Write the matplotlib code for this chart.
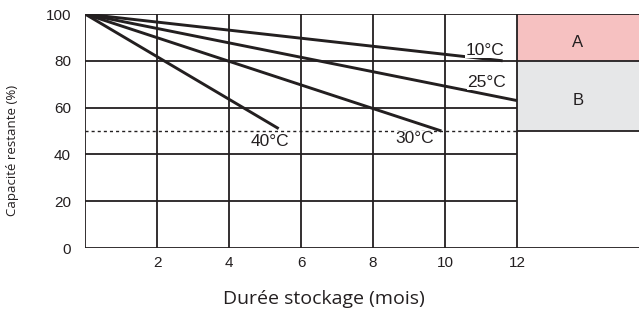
import matplotlib
matplotlib.use("Agg")
import matplotlib.pyplot as plt
import numpy as np

# ---- data ----
temps = ["10", "25", "30", "40"]
start_month = [0, 0, 0, 0]
start_capacity = [100, 100, 100, 100]
end_month = [11.6, 12.0, 9.9, 5.38]
end_capacity = [80, 63, 50, 51]

x_ticks = [2, 4, 6, 8, 10, 12]
y_ticks = [0, 20, 40, 60, 80, 100]
limit_capacity = 50

zone_labels = ["A", "B"]
zone_low = [80, 50]
zone_high = [100, 80]
zone_colors = ["#f6c1c1", "#e6e7e8"]

# ---- figure ----
ink = "#231f20"
fig = plt.figure(figsize=(6.39, 3.15), dpi=100)
ax = fig.add_axes([85/639, 67/315, 1 - 85/639, (248-14)/315])
xmax = (639 - 85) / 36.0
ax.set_xlim(0, xmax)
ax.set_ylim(0, 100)
for s in ax.spines.values():
    s.set_visible(False)

xend = x_ticks[-1]
# zones
for lab, lo, hi, c in zip(zone_labels, zone_low, zone_high, zone_colors):
    ax.fill_between([xend, xmax], lo, hi, color=c, lw=0, zorder=0)
    ax.text((xend + xmax) / 2, (lo + hi) / 2 - 2, lab, ha="center", va="center",
            fontsize=12, family="Liberation Sans", color=ink)

gl = 1.3
# vertical grid lines
ax.vlines([0] + x_ticks, 0, 100, color=ink, lw=gl, zorder=1)
# horizontal grid lines
ax.hlines([y for y in y_ticks if 0 < y < 100 and y != 80], 0, xend, color=ink, lw=gl, zorder=1)
ax.hlines([0, 100, 80], 0, xmax, color=ink, lw=gl, zorder=1)
ax.hlines([limit_capacity], xend, xmax, color=ink, lw=gl, zorder=1)
# dashed limit line
ax.plot([0, xend], [limit_capacity, limit_capacity], color=ink, lw=1.0,
        dashes=(2.2, 2.2), zorder=1)

# curves
for t, x0, y0, x1, y1 in zip(temps, start_month, start_capacity, end_month, end_capacity):
    ax.plot([x0, x1], [y0, y1], color=ink, lw=2.1, solid_capstyle="butt", zorder=3)

label_pos = [(11.1, 84.6), (11.15, 70.7), (9.15, 46.9), (5.15, 45.6)]
for t, (lx, ly) in zip(temps, label_pos):
    ax.text(lx, ly, t + "°C", ha="center", va="center", fontsize=12.5,
            family="Liberation Sans", color=ink, zorder=4,
            bbox=dict(facecolor="white", edgecolor="none", pad=0.1))

# ticks
ax.set_xticks(x_ticks)
ax.set_xticklabels([str(v) for v in x_ticks], family="Liberation Sans", fontsize=11, color=ink)
ax.set_yticks(y_ticks)
ax.set_yticklabels([str(v) for v in y_ticks], family="Liberation Sans", fontsize=11, color=ink)
ax.tick_params(length=0, pad=6)
ax.tick_params(axis="y", pad=10)

fig.text(13/639, 1 - 150/315, "Capacité restante (%)", rotation=90, ha="center", va="center",
         fontsize=9.5, family="Open Sans", color=ink)
fig.text(324/639, 1 - 299/315, "Durée stockage (mois)", ha="center", va="center",
         fontsize=14, family="Open Sans", color=ink)

fig.savefig("out.png", dpi=100)
